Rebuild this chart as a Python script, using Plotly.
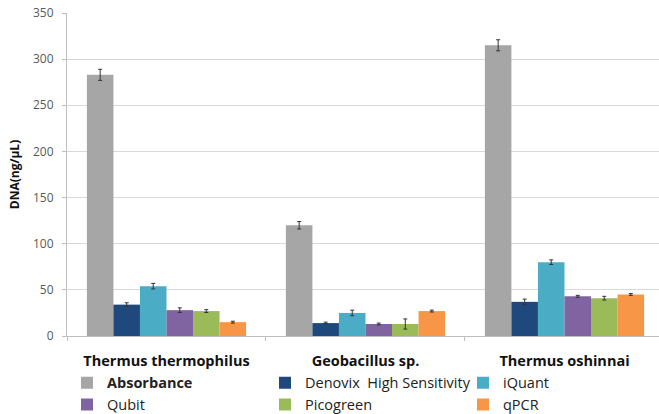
import plotly.graph_objects as go

# Organisms on the x axis
organisms = ["Thermus thermophilus", "Geobacillus sp.", "Thermus oshinnai"]

# Quantification methods (legend order)
methods = ["<b>Absorbance</b>", "Denovix  High Sensitivity", "iQuant",
           "Qubit", "Picogreen", "qPCR"]
colors = ["#a6a6a6", "#1f497d", "#4bacc6", "#8064a2", "#9bbb59", "#f79646"]

# DNA concentration (ng/µL) per method, ordered by organism
absorbance = [283, 120, 315]
denovix = [34, 14, 37]
iquant = [54, 25, 80]
qubit = [28, 13, 43]
picogreen = [27, 13, 41]
qpcr = [15, 27, 45]

# Standard deviations
absorbance_err = [6, 4, 6]
denovix_err = [2, 1, 3]
iquant_err = [3, 3, 2.5]
qubit_err = [2.5, 1, 1]
picogreen_err = [1.5, 5.5, 2]
qpcr_err = [1, 1, 1]

values = [absorbance, denovix, iquant, qubit, picogreen, qpcr]
errors = [absorbance_err, denovix_err, iquant_err, qubit_err, picogreen_err, qpcr_err]

font_family = "Open Sans, Lato, sans-serif"

fig = go.Figure()
for name, vals, errs, col in zip(methods, values, errors, colors):
    fig.add_trace(go.Bar(
        name=name, x=organisms, y=vals, marker=dict(color=col, line=dict(width=0)),
        error_y=dict(type="data", array=errs, visible=True, color="#333333",
                     thickness=1, width=2),
    ))

fig.update_layout(
    width=659, height=414,
    margin=dict(l=67, r=0, t=13, b=78, autoexpand=False),
    paper_bgcolor="white", plot_bgcolor="white",
    barmode="group", bargap=0.2, bargroupgap=0,
    font=dict(family=font_family, color="#000000"),
    showlegend=True,
    legend=dict(
        orientation="h", x=0.0, y=0.114, xanchor="left", yanchor="top",
        xref="paper", yref="container",
        entrywidth=153, entrywidthmode="pixels",
        font=dict(size=14.5, color="#222222", family=font_family),
        itemwidth=30, traceorder="normal", bgcolor="rgba(0,0,0,0)",
    ),
    xaxis=dict(
        range=[-0.5, 2.475], showgrid=False, automargin=False,
        showline=True, linecolor="#bfbfbf", linewidth=1,
        ticks="outside", tickson="boundaries", ticklen=4, tickcolor="#bfbfbf",
        tickfont=dict(size=14.5, color="#111111", family=font_family),
        tickprefix="<b>", ticksuffix="</b>", ticklabelstandoff=12,
    ),
    yaxis=dict(
        range=[0, 350], dtick=50, showgrid=True, gridcolor="#d9d9d9", gridwidth=1,
        showline=True, linecolor="#bfbfbf", linewidth=1, automargin=False,
        ticks="outside", ticklen=4, tickcolor="#bfbfbf",
        tickfont=dict(size=12, color="#595959", family=font_family),
        ticklabelstandoff=6, zeroline=False,
        title=dict(text="<b>DNA(ng/µL)</b>", standoff=10,
                   font=dict(size=12, color="#111111", family=font_family)),
    ),
)

fig.write_html("out.html")
